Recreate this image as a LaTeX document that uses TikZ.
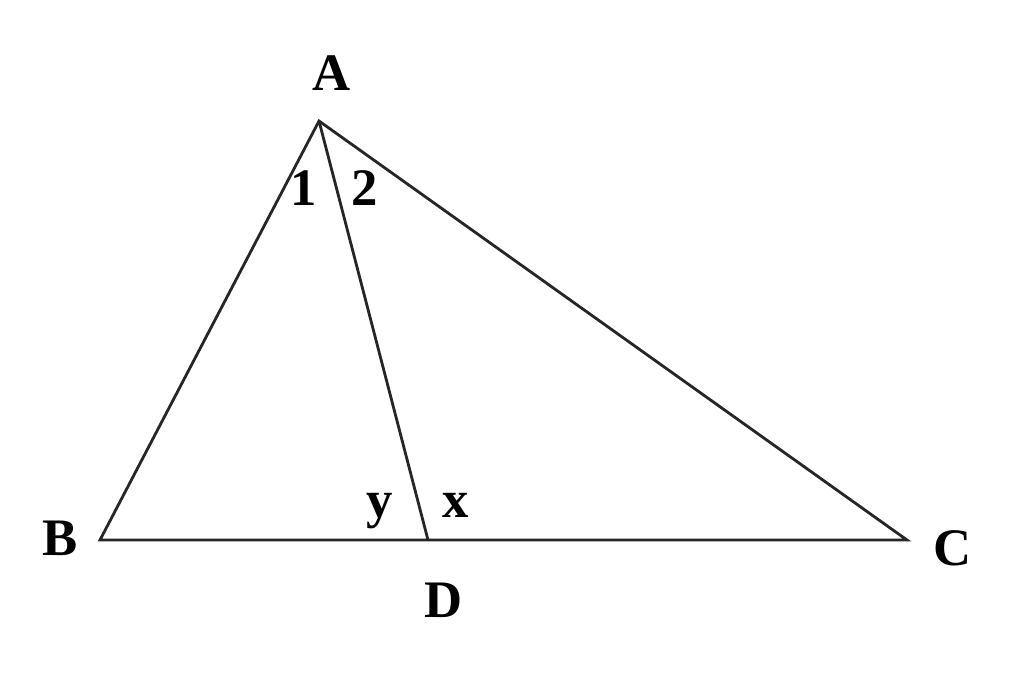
\documentclass[tikz,border=0pt]{standalone}
\usepackage{fontspec}
\setmainfont{Liberation Serif}
\begin{document}
\begin{tikzpicture}[x=0.02cm,y=-0.02cm,
  edge/.style={draw=black!85,line width=1.6pt,line join=miter},
  lbl/.style={anchor=base,inner sep=0pt,font=\fontsize{30}{36}\selectfont\bfseries}]
\useasboundingbox (0,0) rectangle (1024,690);
\coordinate (A) at (319,121);
\coordinate (B) at (100,540);
\coordinate (C) at (907,540);
\coordinate (D) at (428,540);
\draw[edge] (A) -- (B) -- (C) -- cycle;
\draw[edge] (A) -- (D);
\node[lbl] (lA) at (332,90) {A};
\node[lbl] (lB) at (60,555) {B};
\node[lbl] (lC) at (953,565) {C};
\node[lbl] (lD) at (444,617) {D};
\node[lbl] (l1) at (304,205) {1};
\node[lbl] (l2) at (365,205) {2};
\node[lbl] (ly) at (380,517) {y};
\node[lbl] (lx) at (456,517) {x};
\end{tikzpicture}
\end{document}
